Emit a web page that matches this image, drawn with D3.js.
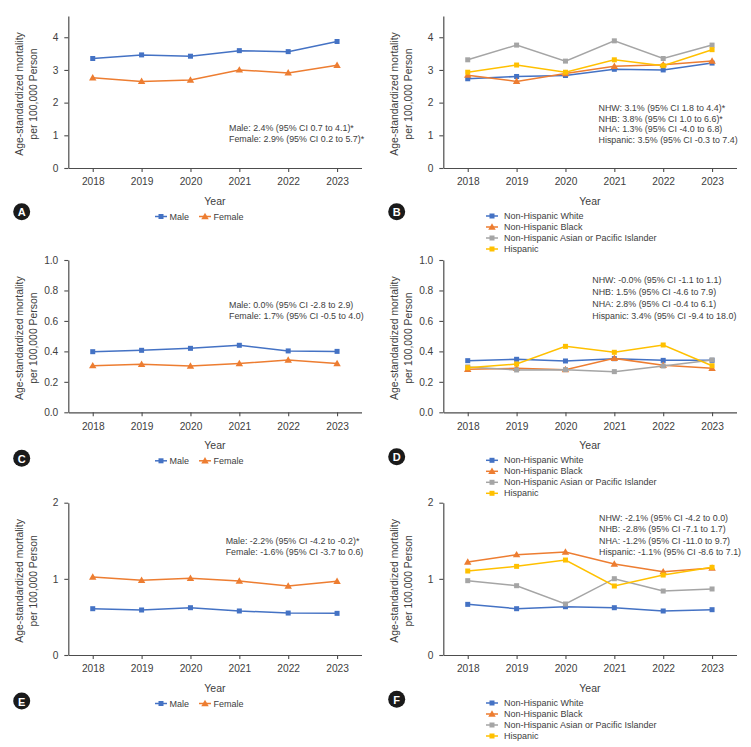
<!DOCTYPE html>
<html><head><meta charset="utf-8">
<script src="https://cdn.jsdelivr.net/npm/d3@7"></script>
<style>
body{margin:0;background:#fff}
svg text{font-family:"Liberation Sans",Arial,Helvetica,sans-serif;fill:#404040}
</style>
</head><body><svg id="c" width="751" height="747"></svg>
<script>
const years = ["2018","2019","2020","2021","2022","2023"];
const aMale   = [3.35,3.46,3.42,3.59,3.56,3.87];
const aFemale = [2.76,2.65,2.69,3.00,2.91,3.14];
const bNHW  = [2.73,2.80,2.83,3.02,3.00,3.21];
const bNHB  = [2.84,2.65,2.89,3.11,3.16,3.27];
const bNHA  = [3.31,3.76,3.27,3.89,3.35,3.76];
const bHisp = [2.93,3.15,2.93,3.31,3.13,3.62];
const cMale   = [0.398,0.407,0.420,0.440,0.403,0.400];
const cFemale = [0.306,0.315,0.304,0.320,0.343,0.320];
const dNHW  = [0.339,0.348,0.337,0.352,0.341,0.341];
const dNHB  = [0.282,0.289,0.280,0.354,0.309,0.289];
const dNHA  = [0.298,0.278,0.280,0.267,0.304,0.344];
const dHisp = [0.293,0.317,0.433,0.394,0.442,0.306];
const eMale   = [0.608,0.591,0.621,0.578,0.551,0.547];
const eFemale = [1.024,0.980,1.007,0.972,0.906,0.967];
const fNHW  = [0.665,0.608,0.634,0.621,0.578,0.595];
const fNHB  = [1.221,1.317,1.352,1.195,1.094,1.142];
const fNHA  = [0.976,0.910,0.670,1.002,0.840,0.867];
const fHisp = [1.103,1.164,1.247,0.906,1.050,1.151];

const ticksAB = [0,1,2,3,4];
const ticksCD = [0,0.2,0.4,0.6,0.8,1.0];
const ticksEF = [0,1,2];
const maxAB = 4.65, maxCD = 1.0, maxEF = 2.0;

const sexNames  = ["Male","Female"];
const raceNames = ["Non-Hispanic White","Non-Hispanic Black","Non-Hispanic Asian or Pacific Islander","Hispanic"];
const sexColors  = ["#4472c4","#ed7d31"];
const raceColors = ["#4472c4","#ed7d31","#a5a5a5","#ffc000"];
const sexShapes  = ["square","triangle"];
const raceShapes = ["square","triangle","square","square"];

const annA = ["Male: 2.4% (95% CI 0.7 to 4.1)*","Female: 2.9% (95% CI 0.2 to 5.7)*"];
const annB = ["NHW: 3.1% (95% CI 1.8 to 4.4)*","NHB: 3.8% (95% CI 1.0 to 6.6)*","NHA: 1.3% (95% CI -4.0 to 6.8)","Hispanic: 3.5% (95% CI -0.3 to 7.4)"];
const annC = ["Male: 0.0% (95% CI -2.8 to 2.9)","Female: 1.7% (95% CI -0.5 to 4.0)"];
const annD = ["NHW: -0.0% (95% CI -1.1 to 1.1)","NHB: 1.5% (95% CI -4.6 to 7.9)","NHA: 2.8% (95% CI -0.4 to 6.1)","Hispanic: 3.4% (95% CI -9.4 to 18.0)"];
const annE = ["Male: -2.2% (95% CI -4.2 to -0.2)*","Female: -1.6% (95% CI -3.7 to 0.6)"];
const annF = ["NHW: -2.1% (95% CI -4.2 to 0.0)","NHB: -2.8% (95% CI -7.1 to 1.7)","NHA: -1.2% (95% CI -11.0 to 9.7)","Hispanic: -1.1% (95% CI -8.6 to 7.1)"];

const yLabel = ["Age-standardized mortality","per 100,000 Person"];
const xLabel = "Year";

const panels = [
  {id:"A", ox:0,   top:16,    bot:168,   ymax:maxAB, ticks:ticksAB, fmt:d3.format("d"),   kind:"sex",  data:[aMale,aFemale], ann:annA, annX:229,   annY:128,   annDy:11.2, letY:211.7},
  {id:"B", ox:375, top:16,    bot:168,   ymax:maxAB, ticks:ticksAB, fmt:d3.format("d"),   kind:"race", data:[bNHW,bNHB,bNHA,bHisp], ann:annB, annX:598.5, annY:107.7, annDy:10.8, letY:211.7},
  {id:"C", ox:0,   top:260,   bot:412.3, ymax:maxCD, ticks:ticksCD, fmt:d3.format(".1f"), kind:"sex",  data:[cMale,cFemale], ann:annC, annX:229,   annY:305,   annDy:11.3, letY:458.3},
  {id:"D", ox:375, top:260,   bot:412.3, ymax:maxCD, ticks:ticksCD, fmt:d3.format(".1f"), kind:"race", data:[dNHW,dNHB,dNHA,dHisp], ann:annD, annX:592.3, annY:280.3, annDy:12, letY:456.7},
  {id:"E", ox:0,   top:502.7, bot:655,   ymax:maxEF, ticks:ticksEF, fmt:d3.format("d"),   kind:"sex",  data:[eMale,eFemale], ann:annE, annX:225.7, annY:541,   annDy:11, letY:701},
  {id:"F", ox:375, top:502.7, bot:655,   ymax:maxEF, ticks:ticksEF, fmt:d3.format("d"),   kind:"race", data:[fNHW,fNHB,fNHA,fHisp], ann:annF, annX:599,   annY:518,   annDy:11.3, letY:699.3}
];

const svg = d3.select("#c");
const axisColor = "#4d4d4d";

function marker(g, shape, cx, cy, color){
  if(shape === "square"){
    g.append("rect").attr("x",cx-2.5).attr("y",cy-2.5).attr("width",5).attr("height",5).attr("fill",color);
  } else {
    g.append("path").attr("d", d3.symbol(d3.symbolTriangle, 24)()).attr("transform",`translate(${cx},${cy+0.5})`).attr("fill",color);
  }
}

panels.forEach(p => {
  const g = svg.append("g");
  const x0 = p.ox + 68.3, x1 = p.ox + 361.5;
  const x = d3.scalePoint().domain(years).range([x0, x1]).padding(0.5);
  const y = d3.scaleLinear().domain([0, p.ymax]).range([p.bot, p.top]);

  const ya = g.append("g").attr("transform",`translate(${x0},0)`)
    .call(d3.axisLeft(y).tickValues(p.ticks).tickFormat(p.fmt).tickSize(4).tickSizeOuter(0).tickPadding(6));
  const xa = g.append("g").attr("transform",`translate(0,${p.bot})`)
    .call(d3.axisBottom(x).tickSize(4).tickSizeOuter(0).tickPadding(6));
  [ya,xa].forEach(a=>{
    a.selectAll("path.domain").attr("stroke",axisColor).attr("stroke-width",1.2);
    a.selectAll(".tick line").attr("stroke",axisColor).attr("stroke-width",1.1);
    a.selectAll(".tick text").attr("font-size",10.2).attr("fill","#404040").attr("font-family","Liberation Sans, Arial, sans-serif");
  });

  g.append("text").attr("x",(x0+x1)/2).attr("y",p.bot+36.5).attr("text-anchor","middle").attr("font-size",10.5).text(xLabel);
  const cy = (p.top+p.bot)/2 + 2;
  yLabel.forEach((t,i)=>{
    g.append("text").attr("transform",`translate(${p.ox + 19 + i*14},${cy}) rotate(-90)`)
      .attr("text-anchor","middle").attr("dominant-baseline","central").attr("font-size",10.4).text(t);
  });

  const colors = p.kind==="sex" ? sexColors : raceColors;
  const shapes = p.kind==="sex" ? sexShapes : raceShapes;
  const line = d3.line().x((d,i)=>x(years[i])).y(d=>y(d));
  p.data.forEach((vals,si)=>{
    const sg = g.append("g");
    sg.append("path").datum(vals).attr("d",line).attr("fill","none").attr("stroke",colors[si]).attr("stroke-width",1.5);
    vals.forEach((v,i)=>marker(sg, shapes[si], x(years[i]), y(v), colors[si]));
  });

  p.ann.forEach((t,i)=>{
    g.append("text").attr("x",p.annX).attr("y",p.annY + i*p.annDy).attr("dominant-baseline","central")
      .attr("font-size",8.9).text(t);
  });

  const lx = p.ox + 21.7, ly = p.letY;
  g.append("circle").attr("cx",lx).attr("cy",ly).attr("r",8.5).attr("fill","#1a1a1a");
  g.append("text").attr("x",lx).attr("y",ly+0.5).attr("text-anchor","middle").attr("dominant-baseline","central")
    .attr("font-size",11).attr("font-weight","bold").style("fill","#fff").text(p.id);

  if(p.kind==="sex"){
    const ly2 = p.bot + 48.5;
    const pos = [155, 199];
    sexNames.forEach((n,i)=>{
      const lg = g.append("g");
      lg.append("line").attr("x1",p.ox+pos[i]).attr("x2",p.ox+pos[i]+12).attr("y1",ly2).attr("y2",ly2).attr("stroke",sexColors[i]).attr("stroke-width",1.5);
      marker(lg, sexShapes[i], p.ox+pos[i]+6, ly2, sexColors[i]);
      lg.append("text").attr("x",p.ox+pos[i]+14.5).attr("y",ly2).attr("dominant-baseline","central").attr("font-size",9).text(n);
    });
  } else {
    raceNames.forEach((n,i)=>{
      const ly2 = p.bot + 48 + i*11;
      const lg = g.append("g");
      lg.append("line").attr("x1",p.ox+111).attr("x2",p.ox+123).attr("y1",ly2).attr("y2",ly2).attr("stroke",raceColors[i]).attr("stroke-width",1.5);
      marker(lg, raceShapes[i], p.ox+117, ly2, raceColors[i]);
      lg.append("text").attr("x",p.ox+129).attr("y",ly2).attr("dominant-baseline","central").attr("font-size",9).text(n);
    });
  }
});
</script>
</body></html>
